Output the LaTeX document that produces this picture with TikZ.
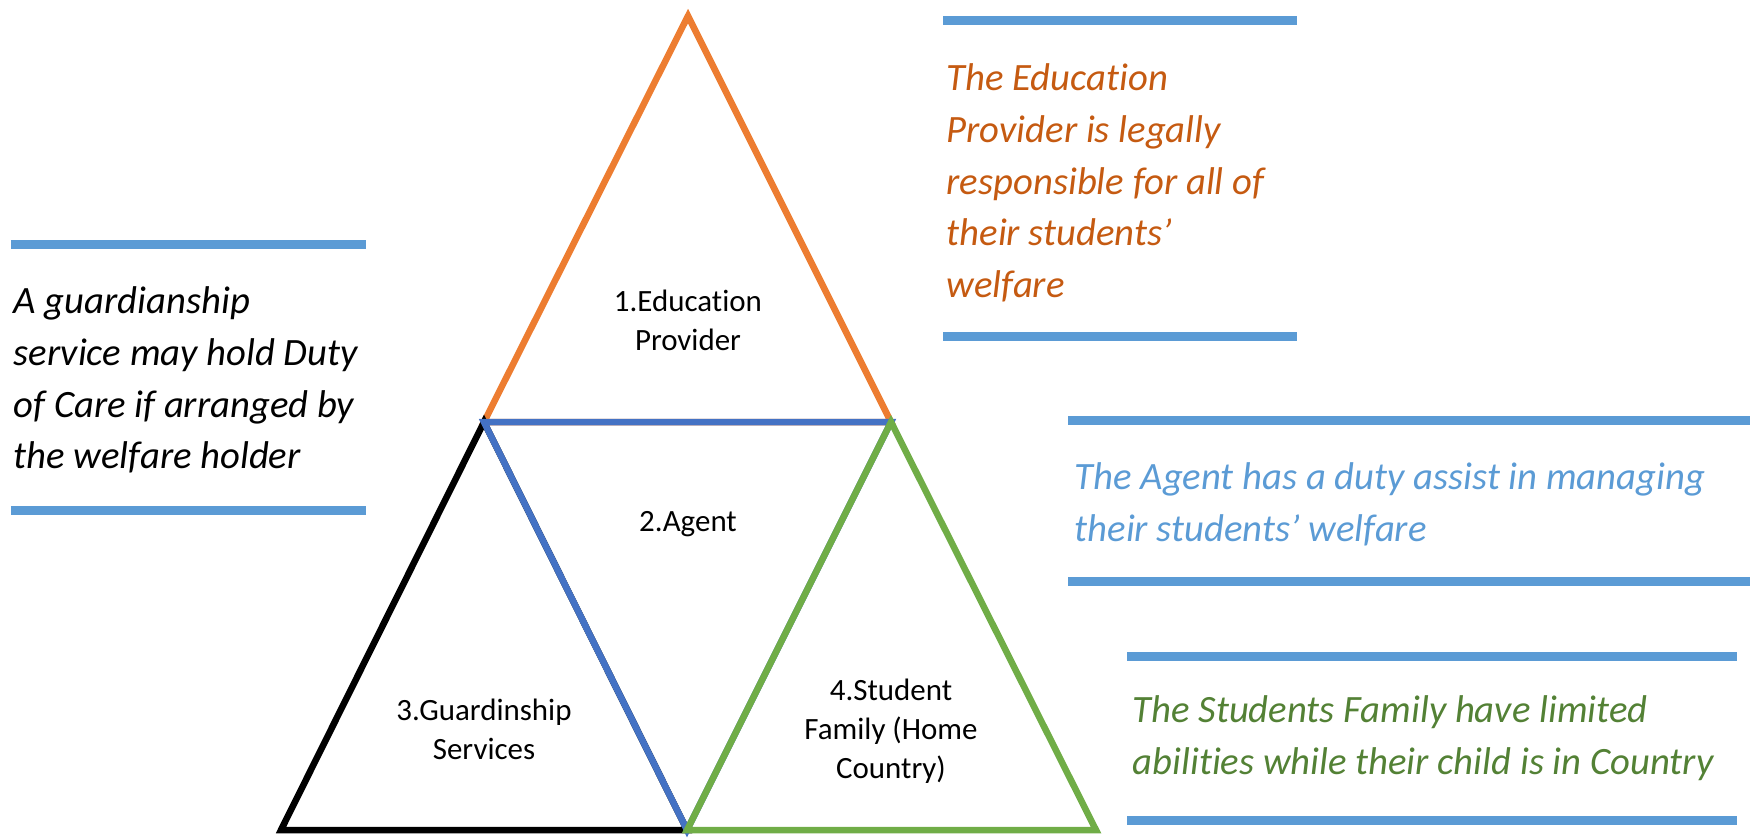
\documentclass[tikz,border=0pt]{standalone}
\usepackage{fontspec}
\setmainfont[RawFeature=-liga]{Carlito}
\usepackage{tikz}
\usetikzlibrary{positioning}
\definecolor{barblue}{HTML}{5B9BD5}
\definecolor{edorange}{HTML}{ED7D31}
\definecolor{edtext}{HTML}{C55A11}
\definecolor{agblue}{HTML}{4472C4}
\definecolor{famgreen}{HTML}{70AD47}
\definecolor{famtext}{HTML}{538135}

\begin{document}
\begin{tikzpicture}[x=0.01cm,y=-0.01cm,
    bar/.style={barblue, line width=0.09cm},
    side/.style={line width=0.065cm},
    note/.style={anchor=west, align=left, inner sep=0, font=\fontsize{11}{14.7}\selectfont\itshape},
    lbl/.style={align=center, inner sep=0, font=\fontsize{8.8}{11.1}\selectfont}]
            \useasboundingbox (0,0) rectangle (1750,838);
            % corners of the triangles
            \coordinate (top) at (688,16);
            \coordinate (ml) at (484,422);
            \coordinate (mr) at (891,422);
            \coordinate (bl) at (281,830);
            \coordinate (bm) at (687,830);
            \coordinate (br) at (1096,830);
            \draw[side, edorange] (top) -- (mr) -- (ml) -- cycle;
            \draw[side, black] (ml) -- (bm) -- (bl) -- cycle;
            \draw[side, agblue] (ml) -- (mr) -- (bm) -- cycle;
            \draw[side, famgreen] (mr) -- (br) -- (bm) -- cycle;
            % labels inside
            \node[lbl] (edu) at (688,320) {1.Education\\Provider};
            \node[lbl] (agent) at (688,524) {2.Agent};
            \node[lbl] (guard) at (484,729) {3.Guardinship\\Services};
            \node[lbl] (family) at (891,731) {4.Student\\Family (Home\\Country)};
            % bars
            \draw[bar] (943,20) -- (1297,20);
            \draw[bar] (943,336) -- (1297,336);
            \draw[bar] (11,244) -- (366,244);
            \draw[bar] (11,510) -- (366,510);
            \draw[bar] (1068,420) -- (1750,420);
            \draw[bar] (1068,581) -- (1750,581);
            \draw[bar] (1127,656) -- (1737,656);
            \draw[bar] (1127,820) -- (1737,820);
            % notes
            \node[note, edtext] (edunote) at (946,183) {The Education\\Provider is legally\\responsible for all of\\their students’\\welfare};
            \node[note, black] (guardnote) at (13,380) {A guardianship\\service may hold Duty\\of Care if arranged by\\the welfare holder};
            \node[note, barblue] (agentnote) at (1074,504) {The Agent has a duty assist in managing\\their students’ welfare};
            \node[note, famtext] (familynote) at (1132,738) {The Students Family have limited\\abilities while their child is in Country};
\end{tikzpicture}
\end{document}
